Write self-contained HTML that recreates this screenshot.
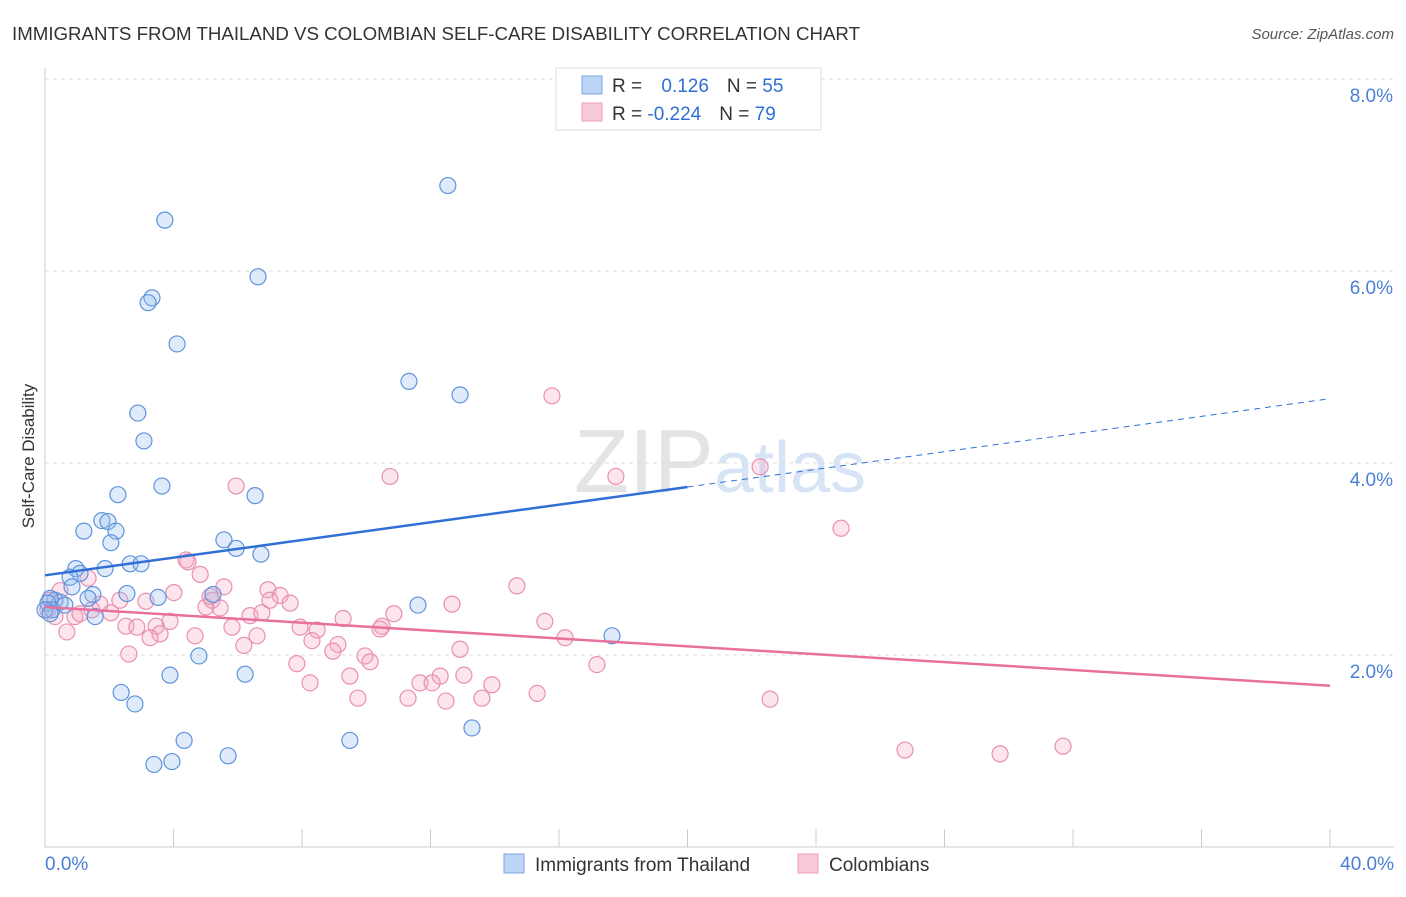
<!DOCTYPE html>
<html><head><meta charset="utf-8"><style>
body{margin:0;background:#fff;font-family:"Liberation Sans",sans-serif}
svg text{font-family:"Liberation Sans",sans-serif}
</style></head><body>
<svg id="chart" width="1406" height="892" viewBox="0 0 1406 892">
<text x="12" y="40" font-size="18.7" fill="#333">IMMIGRANTS FROM THAILAND VS COLOMBIAN SELF-CARE DISABILITY CORRELATION CHART</text>
<text x="1394" y="39" font-size="15" fill="#555" text-anchor="end" font-style="italic">Source: ZipAtlas.com</text>
<text x="720" y="492" font-size="90" fill="#e4e4e4" text-anchor="middle" font-family="Liberation Serif">ZIP<tspan fill="#d6e4f5" font-family="Liberation Sans" font-size="72">atlas</tspan></text>
<g id="grid"></g>
<g id="axes"></g>
<g id="marks"></g>
<text transform="translate(34,456) rotate(-90)" font-size="17" fill="#333" text-anchor="middle">Self-Care Disability</text>
<g>
<rect x="556" y="68" width="265" height="62" fill="#fff" stroke="#ddd"/>
<rect x="582" y="76" width="20" height="18" fill="#bcd4f5" stroke="#7ea6e0"/>
<rect x="582" y="103" width="20" height="18" fill="#f9cad9" stroke="#eba0ba"/>
<text x="612" y="92" font-size="19" fill="#333">R = <tspan fill="#2f6fd6" dx="14">0.126</tspan><tspan dx="18" fill="#333">N = </tspan><tspan fill="#2f6fd6">55</tspan></text>
<text x="612" y="120" font-size="19" fill="#333">R = <tspan fill="#2f6fd6">-0.224</tspan><tspan dx="18" fill="#333">N = </tspan><tspan fill="#2f6fd6">79</tspan></text>
</g>
<g>
<rect x="504" y="854" width="20" height="19" fill="#bcd4f5" stroke="#7ea6e0"/>
<text x="535" y="871" font-size="19" fill="#333">Immigrants from Thailand</text>
<rect x="798" y="854" width="20" height="19" fill="#f9cad9" stroke="#eba0ba"/>
<text x="829" y="871" font-size="19" fill="#333">Colombians</text>
</g>
</svg>
<script>
const yTicks=[2,4,6,8];
const yTickLabels=["2.0%","4.0%","6.0%","8.0%"];
const xTickLabels=["0.0%","40.0%"];
const blueX=[3.73,12.54,6.63,3.33,3.21,4.11,11.33,12.92,2.89,3.08,3.64,2.27,6.54,1.77,1.96,1.21,2.21,5.57,2.05,5.95,6.72,0.96,1.87,2.65,2.99,1.09,0.78,0.84,1.49,2.55,3.52,5.23,11.61,0.47,0.31,0.16,0.09,1.34,1.56,17.65,3.89,4.79,6.23,2.37,2.80,4.33,9.49,13.29,3.39,3.95,5.70,0.22,0.62,0.0,0.16];
const blueY=[6.53,6.89,5.94,5.72,5.67,5.24,4.85,4.71,4.52,4.23,3.76,3.67,3.66,3.40,3.39,3.29,3.29,3.20,3.17,3.11,3.05,2.90,2.90,2.95,2.95,2.85,2.81,2.71,2.63,2.64,2.60,2.63,2.52,2.55,2.57,2.59,2.54,2.59,2.40,2.20,1.79,1.99,1.80,1.61,1.49,1.11,1.11,1.24,0.86,0.89,0.95,2.47,2.52,2.47,2.43];
const pinkX=[15.78,10.74,17.77,22.26,5.95,24.78,4.39,4.45,4.83,1.34,14.69,5.57,6.94,7.32,4.01,3.14,5.20,5.01,5.45,7.63,12.67,10.86,6.38,6.75,2.05,9.28,15.56,10.49,10.43,2.52,2.86,3.46,3.89,5.82,7.94,8.47,3.58,4.67,6.60,16.19,8.31,9.12,8.96,6.19,3.27,2.61,12.92,9.96,10.12,7.84,9.49,17.18,12.30,13.04,11.67,12.05,13.91,8.25,11.30,9.74,12.48,13.60,15.32,22.57,26.77,29.73,31.69,0.68,0.93,1.71,0.47,0.16,0.31,0.09,1.09,1.46,2.33,5.14,7.00];
const pinkY=[4.70,3.86,3.86,3.96,3.76,3.32,2.99,2.97,2.84,2.80,2.72,2.71,2.68,2.62,2.65,2.56,2.57,2.50,2.49,2.54,2.53,2.43,2.41,2.44,2.44,2.38,2.35,2.30,2.27,2.30,2.29,2.30,2.35,2.29,2.29,2.26,2.22,2.20,2.20,2.18,2.15,2.11,2.04,2.10,2.18,2.01,2.06,1.99,1.93,1.91,1.78,1.90,1.78,1.79,1.71,1.71,1.69,1.71,1.55,1.55,1.52,1.55,1.60,1.54,1.01,0.97,1.05,2.24,2.40,2.53,2.67,2.57,2.40,2.47,2.43,2.47,2.57,2.61,2.57];
const blueLine=[2.83,4.67];
const pinkLine=[2.50,1.68];
const NS='http://www.w3.org/2000/svg';
const X=v=>45+v*32.125, Y=v=>847-v*96;
function mk(t,a,p){const e=document.createElementNS(NS,t);for(const k in a)e.setAttribute(k,a[k]);p.appendChild(e);return e;}
const grid=document.getElementById('grid'),axes=document.getElementById('axes'),marks=document.getElementById('marks');
yTicks.forEach((t,i)=>{
 const l=mk('line',{x1:45,x2:1394,y1:Y(t),y2:Y(t),stroke:'#ddd','stroke-dasharray':'4,4'},grid);
 
 
 const tx=mk('text',{x:1393,y:Y(t)+23,'font-size':19,fill:'#4a7fd4','text-anchor':'end'},axes);
 tx.textContent=yTickLabels[i];
 
 
});
mk('line',{x1:45,x2:45,y1:68,y2:847,stroke:'#ccc'},axes);
mk('line',{x1:45,x2:1394,y1:847,y2:847,stroke:'#ccc'},axes);
for(let i=0;i<=10;i++){mk('line',{x1:X(i*4),x2:X(i*4),y1:829,y2:847,stroke:'#ccc'},axes);}
const xl0=mk('text',{x:45,y:870,'font-size':19,fill:'#4a7fd4'},axes);xl0.textContent=xTickLabels[0];


const xl1=mk('text',{x:1394,y:870,'font-size':19,fill:'#4a7fd4','text-anchor':'end'},axes);xl1.textContent=xTickLabels[1];


pinkX.forEach((x,i)=>{const c=mk('circle',{cx:X(x),cy:Y(pinkY[i]),r:8,fill:'rgba(244,170,196,0.3)',stroke:'#e98fb0','stroke-width':1.2},marks);
 
 });
blueX.forEach((x,i)=>{const c=mk('circle',{cx:X(x),cy:Y(blueY[i]),r:8,fill:'rgba(150,190,240,0.3)',stroke:'#5f93dc','stroke-width':1.2},marks);
 
 });
const bAt=v=>blueLine[0]+(blueLine[1]-blueLine[0])*v/40;
const b1=mk('line',{x1:X(0),y1:Y(bAt(0)),x2:X(20),y2:Y(bAt(20)),stroke:'#2f6fd6','stroke-width':2.5},marks);


const b2=mk('line',{x1:X(20),y1:Y(bAt(20)),x2:X(40),y2:Y(bAt(40)),stroke:'#2f6fd6','stroke-width':1,'stroke-dasharray':'6,5'},marks);


const p1=mk('line',{x1:X(0),y1:Y(pinkLine[0]),x2:X(40),y2:Y(pinkLine[1]),stroke:'#e8709f','stroke-width':2.5},marks);


</script>
</body></html>
